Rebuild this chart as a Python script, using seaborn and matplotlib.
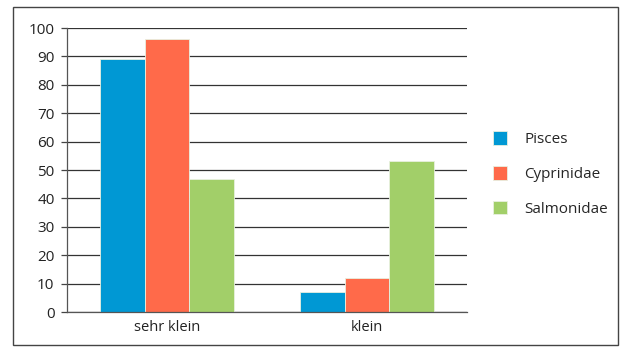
import pandas as pd
import matplotlib.pyplot as plt
import seaborn as sns
from matplotlib.patches import Rectangle

categories = ['sehr klein', 'klein']
series = ['Pisces', 'Cyprinidae', 'Salmonidae']
pisces = [89, 7]
cyprinidae = [96, 12]
salmonidae = [47, 53]
colors = ['#0098D4', '#FF6A4A', '#A2CF69']


def main():
    df = pd.DataFrame({
        'Kategorie': categories * 3,
        'Gruppe': [s for s in series for _ in categories],
        'Wert': pisces + cyprinidae + salmonidae,
    })

    sns.set_style('white')
    plt.rcParams['font.family'] = ['Open Sans', 'DejaVu Sans']

    fig = plt.figure(figsize=(6.2, 3.47), dpi=100)
    ax = fig.add_axes([67 / 620, 35 / 347, 400 / 620, 284 / 347])

    sns.barplot(data=df, x='Kategorie', y='Wert', hue='Gruppe', order=categories,
                hue_order=series, palette=colors, width=0.667, ax=ax,
                edgecolor='#e8f0e0', linewidth=0.6, saturation=1, legend=True)

    ax.set_ylim(0, 100)
    ax.set_xlim(-0.5, 1.5)
    ax.set_yticks(range(0, 101, 10))
    ax.set_xlabel('')
    ax.set_ylabel('')
    ax.set_axisbelow(True)
    ax.grid(axis='y', color='#333333', linewidth=0.9)
    ax.grid(axis='x', visible=False)

    # category boundary ticks on the x axis
    ax.set_xticks([0, 1])
    ax.set_xticks([-0.5, 0.5, 1.5], minor=True)
    ax.tick_params(axis='x', which='major', length=0, labelsize=10.5, pad=6, labelcolor='#222222')
    ax.tick_params(axis='x', which='minor', length=4, width=0.9, direction='out', color='#444444')
    ax.tick_params(axis='y', length=4, width=0.9, direction='out', labelsize=11,
                   color='#444444', labelcolor='#222222', left=True, pad=5)

    for side in ['top', 'right']:
        ax.spines[side].set_visible(False)
    for side in ['left', 'bottom']:
        ax.spines[side].set_color('#555555')
        ax.spines[side].set_linewidth(0.9)

    handles, labels = ax.get_legend_handles_labels()
    ax.legend(handles, labels, loc='center left', bbox_to_anchor=(1.03, 0.485), frameon=False,
              fontsize=11, handlelength=0.95, handleheight=0.95, labelspacing=1.25,
              handletextpad=1.1)

    fig.patches.append(Rectangle((13 / 620, 2 / 347), 605 / 620, 338 / 347,
                                 transform=fig.transFigure, fill=False,
                                 edgecolor='#444444', linewidth=1))

    fig.savefig('out.png', dpi=100)


if __name__ == '__main__':
    main()
